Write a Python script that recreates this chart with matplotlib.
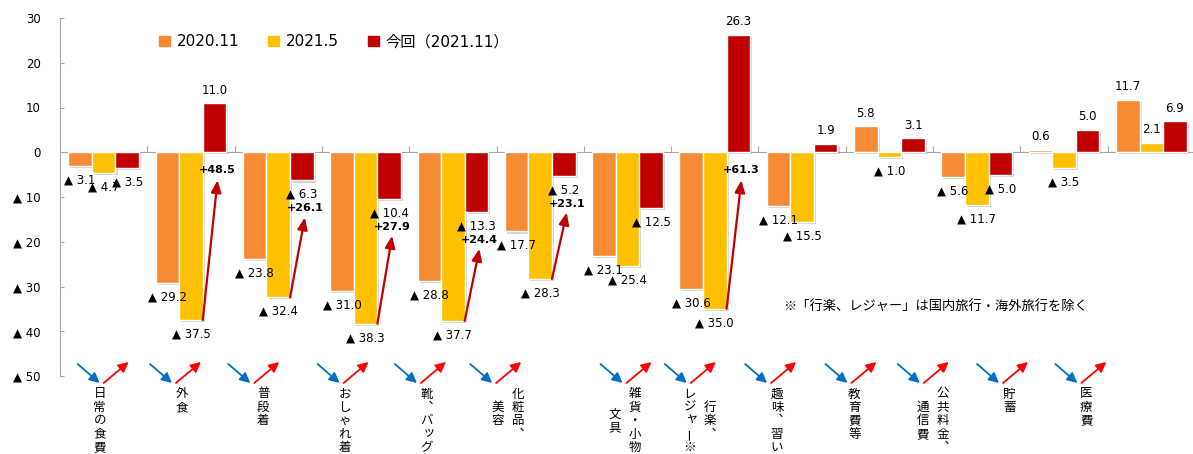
import numpy as np
import matplotlib
matplotlib.use('Agg')
import matplotlib.pyplot as plt
import matplotlib.patheffects as pe
from matplotlib.patches import Patch
from matplotlib.transforms import offset_copy

plt.rcParams['font.family'] = ['DejaVu Sans', 'Noto Sans CJK JP']

# --- data ---
label_columns = [
    ['日常の食費'], ['外食'], ['普段着'], ['おしゃれ着'], ['靴、バッグ'],
    ['化粧品、', '美容'], ['雑貨・小物', '文具'], ['行楽、', 'レジャー※'],
    ['趣味、習い事'], ['教育費等'], ['公共料金、', '通信費'], ['貯蓄'], ['医療費'],
]
series_names = ['2020.11', '2021.5', '今回（2021.11）']
nov2020 = [-3.1, -29.2, -23.8, -31.0, -28.8, -17.7, -23.1, -30.6, -12.1, 5.8, -5.6, 0.6, 11.7]
may2021 = [-4.7, -37.5, -32.4, -38.3, -37.7, -28.3, -25.4, -35.0, -15.5, -1.0, -11.7, -3.5, 2.1]
nov2021 = [-3.5, 11.0, -6.3, -10.4, -13.3, -5.2, -12.5, 26.3, 1.9, 3.1, -5.0, 5.0, 6.9]
recovery_cats = [1, 2, 3, 4, 5, 7]
yticks = [30, 20, 10, 0, -10, -20, -30, -40, -50]
ytick_labels = ['30', '20', '10', '0', '▲ 10', '▲ 20', '▲ 30', '▲ 40', '▲ 50']
note = '※「行楽、レジャー」は国内旅行・海外旅行を除く'

colors = ['#F68B35', '#FFC000', '#C00000']
gray = '#A6A6A6'

# hand placed decorations under the axis (pixels from category centre)
arrow_shift = [-4, -19, -28, -26, -36, -48, -5, -28, -35, -42, -57, -65, -74]
label_shift = [-4, -9, -15, -21, -26, -32, -3, -15, -25, -35, -44, -55, -65]

# vertical writing forms
vertical = {'、': '\ufe11'}

W, H = 1193, 454
fig = plt.figure(figsize=(W / 100, H / 100), dpi=100)
ax = fig.add_axes([60 / W, 78 / H, 1135 / W, 358 / H])

x = np.arange(len(label_columns))
bw = 0.27
shadow = [pe.SimplePatchShadow(offset=(1.5, -1.5), shadow_rgbFace='#808080', alpha=0.35), pe.Normal()]
for k, vals in enumerate([nov2020, may2021, nov2021]):
    bars = ax.bar(x + (k - 1) * bw, vals, bw, color=colors[k], edgecolor='white',
                  linewidth=1, label=series_names[k], zorder=3)
    for b in bars:
        b.set_path_effects(shadow)
    for xi, v in zip(x, vals):
        xp = xi + (k - 1) * bw
        if v < 0:
            ax.annotate(f'▲ {abs(v):.1f}', (xp, v), xytext=(0, -14), textcoords='offset pixels',
                        ha='center', va='center', fontsize=8.5, zorder=5)
        else:
            ax.annotate(f'{v:.1f}', (xp, v), xytext=(0, 13), textcoords='offset pixels',
                        ha='center', va='center', fontsize=8.5, zorder=5)

# recovery arrows from May 2021 to Nov 2021
for i in recovery_cats:
    red_x = i + bw
    diff = nov2021[i] - may2021[i]
    if nov2021[i] < 0:
        base, txt_dy, tip_dy = nov2021[i], -28, -37
    else:
        base, txt_dy, tip_dy = 0, -18, -28
    ax.annotate(f'+{diff:.1f}', (red_x, base), xytext=(3, txt_dy), textcoords='offset pixels',
                ha='center', va='center', fontsize=8, fontweight='bold', zorder=6)
    tip = offset_copy(ax.transData, fig=fig, x=3, y=tip_dy, units='dots')
    ax.annotate('', xy=(red_x, base), xycoords=tip, xytext=(i + bw / 2, may2021[i]),
                textcoords='data', zorder=6,
                arrowprops=dict(arrowstyle='-|>,head_length=0.6,head_width=0.25', color='#C00000',
                                lw=1.6, mutation_scale=12, shrinkA=0, shrinkB=0))

ax.set_xlim(-0.5, len(x) - 0.5)
ax.set_ylim(-50, 30)
ax.set_yticks(yticks)
ax.set_yticklabels(ytick_labels)
ax.set_xticks(x[:-1] + 0.5)
ax.set_xticklabels([])
ax.tick_params(axis='y', direction='in', length=3, color=gray, pad=14, labelsize=8.5)
ax.tick_params(axis='x', direction='in', length=4, color=gray)
ax.spines['bottom'].set_position(('data', 0))
ax.spines['bottom'].set_color(gray)
ax.spines['left'].set_color(gray)
ax.spines['top'].set_visible(False)
ax.spines['right'].set_visible(False)

# decorative arrows and vertical category labels
base_tr = ax.get_xaxis_transform()
for i, cols in enumerate(label_columns):
    v_tr = offset_copy(base_tr, fig=fig, x=arrow_shift[i], y=-7, units='dots')
    ax.annotate('', xy=(i, 0), xycoords=v_tr, xytext=(-22, 19), textcoords='offset pixels',
                annotation_clip=False,
                arrowprops=dict(arrowstyle='-|>,head_length=0.6,head_width=0.3', color='#0070C0',
                                lw=1.3, mutation_scale=10, shrinkA=0, shrinkB=0))
    r_tr = offset_copy(base_tr, fig=fig, x=arrow_shift[i] + 29, y=14, units='dots')
    ax.annotate('', xy=(i, 0), xycoords=r_tr, xytext=(-25, -21), textcoords='offset pixels',
                annotation_clip=False,
                arrowprops=dict(arrowstyle='-|>,head_length=0.6,head_width=0.3', color='#FF0000',
                                lw=1.3, mutation_scale=10, shrinkA=0, shrinkB=0))
    n = max(len(c) for c in cols)
    for c, col in enumerate(cols):
        cx = label_shift[i] + (10 if len(cols) == 2 and c == 0 else -10 if len(cols) == 2 else 0)
        start = (n - len(col)) / 2
        for j, ch in enumerate(col):
            dx, dy, rot = 0, 0, 0
            if ch == 'ー':
                rot = 90
            elif ch in 'ャッ':
                dx, dy = 2, 2
            ax.annotate(vertical.get(ch, ch), (i, 0), xycoords=base_tr,
                        xytext=(cx + dx, -18 - 13.4 * (j + start) + dy), textcoords='offset pixels',
                        ha='center', va='center', fontsize=9, rotation=rot,
                        family=['Noto Sans CJK JP'], annotation_clip=False)

handles = [Patch(color=c) for c in colors]
ax.legend(handles, series_names, ncol=3, loc='center left', frameon=False,
          bbox_to_anchor=((159 - 60) / 1135, (376 - 42) / 358), borderpad=0, borderaxespad=0,
          fontsize=11, handlelength=0.7, handleheight=0.6, handletextpad=0.45, columnspacing=1.9)

fig.text(783 / W, 1 - 307 / H, note, va='center', ha='left', fontsize=9.5,
         family=['Noto Sans CJK JP'])

fig.savefig('out.png', dpi=100)
